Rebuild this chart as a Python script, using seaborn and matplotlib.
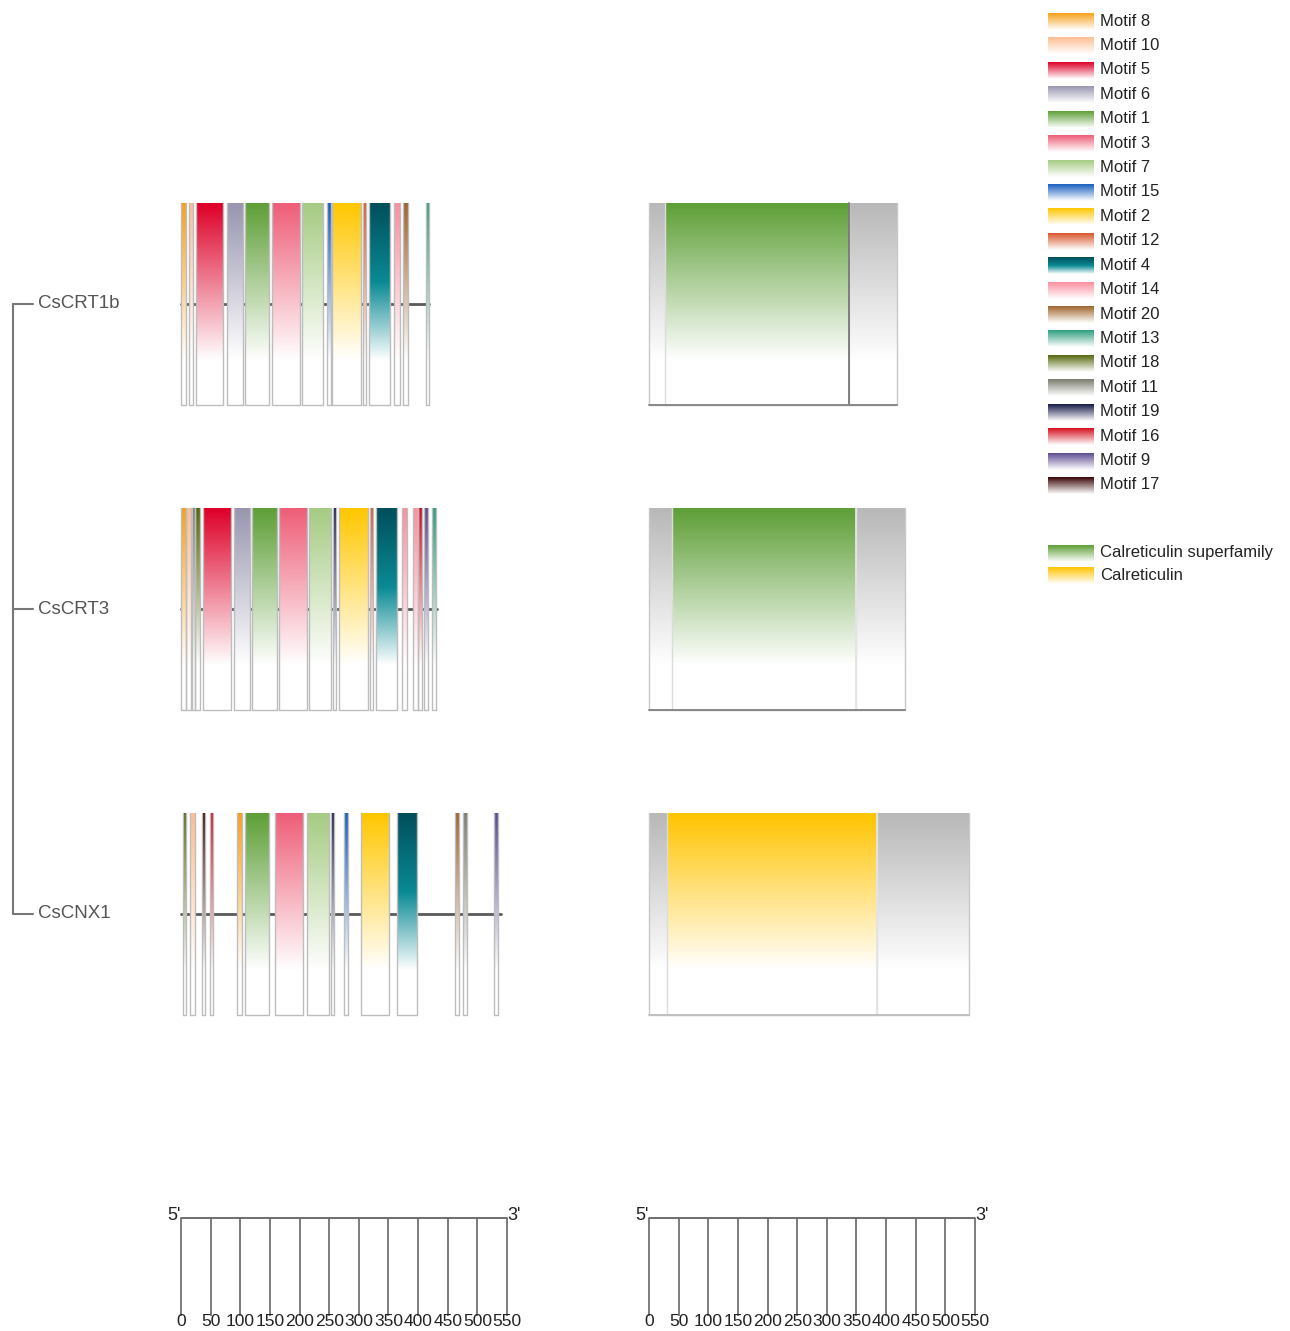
import matplotlib
matplotlib.use("Agg")
import matplotlib.pyplot as plt
import numpy as np
import seaborn as sns

sns.set_theme(style="white")
plt.rcParams['font.family'] = ['Liberation Sans', 'DejaVu Sans']

# ---- data ----
genes = ["CsCRT1b", "CsCRT3", "CsCNX1"]
gene_len = [419, 432, 540]

crt1b_motif = ["Motif 8", "Motif 10", "Motif 5", "Motif 6", "Motif 1", "Motif 3", "Motif 7",
               "Motif 15", "Motif 2", "Motif 12", "Motif 4", "Motif 14", "Motif 20", "Motif 13"]
crt1b_start = [0, 13, 25, 77, 108, 153, 204, 246, 255, 307, 317, 359, 374, 413]
crt1b_end = [8, 20, 71, 104, 148, 201, 240, 253, 304, 312, 352, 369, 383, 418]

crt3_motif = ["Motif 8", "Motif 10", "Motif 11", "Motif 18", "Motif 5", "Motif 6", "Motif 1",
              "Motif 3", "Motif 7", "Motif 19", "Motif 2", "Motif 12", "Motif 4", "Motif 14",
              "Motif 14", "Motif 16", "Motif 9", "Motif 13"]
crt3_start = [0, 8, 19, 24, 37, 89, 120, 165, 216, 256, 266, 319, 329, 373, 391, 400, 410, 423]
crt3_end = [8, 17, 24, 32, 84, 116, 162, 212, 253, 261, 315, 324, 364, 381, 400, 406, 416, 430]

cnx1_motif = ["Motif 18", "Motif 10", "Motif 17", "Motif 16", "Motif 8", "Motif 1", "Motif 3",
              "Motif 7", "Motif 19", "Motif 15", "Motif 2", "Motif 4", "Motif 20", "Motif 11",
              "Motif 9"]
cnx1_start = [3, 15, 35, 49, 94, 108, 158, 212, 253, 275, 303, 364, 462, 475, 528]
cnx1_end = [8, 24, 41, 54, 103, 148, 206, 250, 258, 282, 351, 398, 469, 482, 535]

domain_name = ["Calreticulin superfamily", "Calreticulin superfamily", "Calreticulin"]
domain_start = [27, 39, 30]
domain_end = [337, 349, 384]

legend_motifs = ["Motif 8", "Motif 10", "Motif 5", "Motif 6", "Motif 1", "Motif 3", "Motif 7",
                 "Motif 15", "Motif 2", "Motif 12", "Motif 4", "Motif 14", "Motif 20", "Motif 13",
                 "Motif 18", "Motif 11", "Motif 19", "Motif 16", "Motif 9", "Motif 17"]
legend_domains = ["Calreticulin superfamily", "Calreticulin"]

scale_ticks = [0, 50, 100, 150, 200, 250, 300, 350, 400, 450, 500, 550]

colors = {
    "Motif 8": ["#F7A11A"], "Motif 10": ["#FDBE93"], "Motif 5": ["#DE0029"],
    "Motif 6": ["#9896B0"], "Motif 1": ["#5E9F37"], "Motif 3": ["#EE5E78"],
    "Motif 7": ["#A6CB83"], "Motif 15": ["#1A5FC0"], "Motif 2": ["#FFC700"],
    "Motif 12": ["#D9552C"], "Motif 4": ["#004F5C", "#0A8A94"], "Motif 14": ["#FB8FA0"],
    "Motif 20": ["#A0642E"], "Motif 13": ["#2E9E7F"], "Motif 18": ["#56690F"],
    "Motif 11": ["#7B7D6E"], "Motif 19": ["#151A48"], "Motif 16": ["#D4101E"],
    "Motif 9": ["#5E4C92"], "Motif 17": ["#3A0505"],
    "Calreticulin superfamily": ["#5E9F37"], "Calreticulin": ["#FFC400"],
    "gray": ["#B8B8B8"],
}

motif_rows = [(crt1b_motif, crt1b_start, crt1b_end),
              (crt3_motif, crt3_start, crt3_end),
              (cnx1_motif, cnx1_start, cnx1_end)]

# ---- layout helpers (pixels) ----
W, H = 1290, 1331
fig = plt.figure(figsize=(W / 100, H / 100), dpi=100)
k = 326 / 550.0  # pixels per residue
ROW_PX = [304, 610, 914]
ROW_SP = 305.0
Y0_PX, Y1_PX = 150, 1070
HALF = 0.33


def px_axes(x0, y0, x1, y1):
    ax = fig.add_axes([x0 / W, 1 - y1 / H, (x1 - x0) / W, (y1 - y0) / H])
    ax.set_axis_off()
    return ax


def grad_img(name, n=200, fade=0.78):
    cmap = sns.blend_palette(colors[name] + ["white"], as_cmap=True)
    t = np.clip(np.linspace(0, 1, n) / fade, 0, 1)
    return cmap(t)[:, None, :]


def gbox(ax, name, x0, x1, y, half, edge="#bdbdbd", z=3):
    ax.imshow(grad_img(name), extent=(x0, x1, y + half, y - half), aspect="auto",
              origin="upper", zorder=z, interpolation="bilinear")
    ax.plot([x0, x0], [y - half, y + half], color=edge, lw=1.0, zorder=z + 1)
    ax.plot([x1, x1], [y - half, y + half], color=edge, lw=1.0, zorder=z + 1)
    ax.plot([x0, x1], [y + half, y + half], color=edge, lw=1.0, zorder=z + 1)


ylim = ((Y1_PX - ROW_PX[0]) / ROW_SP, (Y0_PX - ROW_PX[0]) / ROW_SP)
XMIN, XMAX = -20, 575

# ---- left: motifs ----
axm = px_axes(181 + XMIN * k, Y0_PX, 181 + XMAX * k, Y1_PX)
for i, (names, starts, ends) in enumerate(motif_rows):
    sns.lineplot(x=[0, gene_len[i]], y=[i, i], ax=axm, color="#5a5a5a", lw=2, zorder=1)
    for nm, s, e in zip(names, starts, ends):
        gbox(axm, nm, s, e, i, HALF)
axm.set_xlim(XMIN, XMAX)
axm.set_ylim(*ylim)

# ---- right: domains ----
axd = px_axes(649 + XMIN * k, Y0_PX, 649 + XMAX * k, Y1_PX)
for i in range(3):
    gbox(axd, "gray", 0, gene_len[i], i, HALF, edge="#c8c8c8", z=2)
    gbox(axd, domain_name[i], domain_start[i], domain_end[i], i, HALF, edge="#dcdcdc", z=3)
    axd.plot([domain_end[i], domain_end[i]], [i - HALF, i + HALF],
             color="#777777" if i == 0 else "#e4e4e4", lw=1.3, zorder=5)
    axd.plot([0, gene_len[i]], [i + HALF, i + HALF],
             color="#888888" if i < 2 else "#c0c0c0", lw=1.4, zorder=5)
axd.set_xlim(XMIN, XMAX)
axd.set_ylim(*ylim)

# ---- tree ----
axt = px_axes(0, Y0_PX, 170, Y1_PX)
axt.set_xlim(0, 170)
axt.set_ylim(*ylim)
axt.plot([13, 13], [0, len(genes) - 1], color="#777777", lw=1.5)
for i, g in enumerate(genes):
    axt.plot([13, 33], [i, i], color="#777777", lw=1.5)
    axt.text(38, i, g, fontsize=13.5, color="#555555", va="center", ha="left")

# ---- scale bars ----
for x0 in (181, 649):
    axs = px_axes(x0 + XMIN * k, 1195, x0 + XMAX * k, H)
    axs.set_xlim(XMIN, XMAX)
    axs.set_ylim(H, 1195)
    axs.plot([scale_ticks[0], scale_ticks[-1]], [1218, 1218], color="#555555", lw=1.2)
    axs.vlines(scale_ticks, 1218, 1316, color="#666666", lw=1.2)
    for t in scale_ticks:
        axs.text(t, 1322, str(t), fontsize=12.5, ha="center", va="center", color="#222222")
    axs.text(scale_ticks[0] - 1, 1215, "5'", fontsize=13, ha="right", va="center", color="#222222")
    axs.text(scale_ticks[-1] + 1, 1215, "3'", fontsize=13, ha="left", va="center", color="#222222")

# ---- legend ----
axl = px_axes(1040, 0, W, 600)
leg_y = [21 + 24.42 * j for j in range(len(legend_motifs))]
for nm, yy in zip(legend_motifs, leg_y):
    axl.imshow(grad_img(nm, fade=1.0), extent=(1048, 1094, yy + 9, yy - 8), aspect="auto",
               origin="upper", interpolation="bilinear")
    axl.text(1100, yy, nm, fontsize=12, va="center", ha="left", color="#222222")
for nm, yy in zip(legend_domains, [553, 575]):
    axl.imshow(grad_img(nm, fade=1.0), extent=(1048, 1094, yy + 9, yy - 8), aspect="auto",
               origin="upper", interpolation="bilinear")
    axl.text(1100, yy, nm, fontsize=12, va="center", ha="left", color="#222222")
axl.set_xlim(1040, W)
axl.set_ylim(600, 0)

fig.savefig("out.png", dpi=100, facecolor="white")
